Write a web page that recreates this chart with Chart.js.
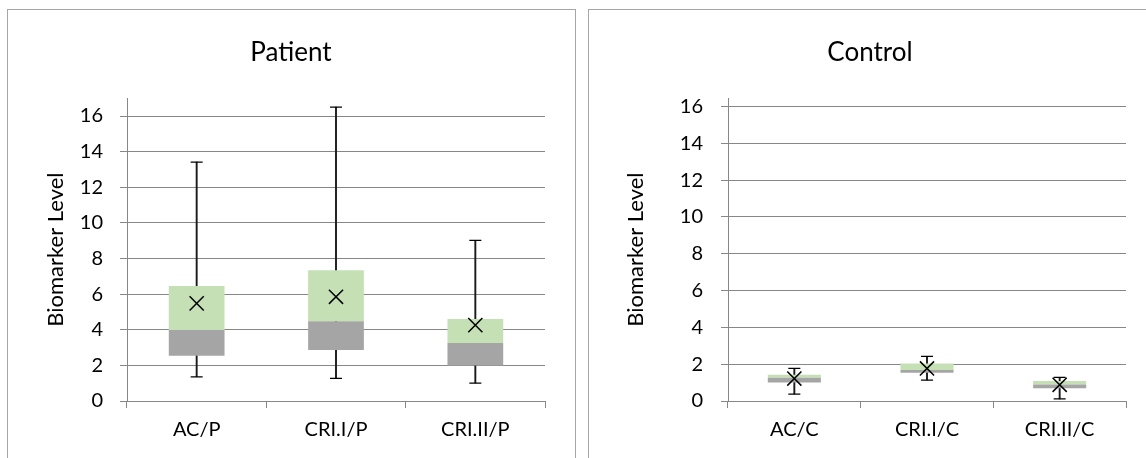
<!DOCTYPE html>
<html>
<head>
<meta charset="utf-8">
<script src="https://cdn.jsdelivr.net/npm/chart.js@4.4.1/dist/chart.umd.min.js"></script>
<style>
  html, body { margin: 0; padding: 0; background: #fff; overflow: hidden; }
  body { width: 1146px; height: 458px; position: relative; }
  .frame { position: absolute; top: 9px; height: 470px; border: 1px solid #a6a6a6; box-sizing: border-box; }
  canvas { position: absolute; top: 10px; }
</style>
</head>
<body>
<div class="frame" style="left:7px; width:569px;"></div>
<div class="frame" style="left:588px; width:600px;"></div>
<canvas id="patient" width="537" height="448" style="left:37px"></canvas>
<canvas id="control" width="532" height="448" style="left:614px"></canvas>
<script>
// values
const yTicks = [0, 2, 4, 6, 8, 10, 12, 14, 16];

const patientLabels = ['AC/P', 'CRI.I/P', 'CRI.II/P'];
const patientMin    = [1.36, 1.27, 1.01];
const patientQ1     = [2.54, 2.86, 2.0];
const patientMedian = [3.98, 4.48, 3.25];
const patientQ3     = [6.46, 7.34, 4.61];
const patientMax    = [13.41, 16.5, 9.02];
const patientMean   = [5.48, 5.85, 4.26];

const controlLabels = ['AC/C', 'CRI.I/C', 'CRI.II/C'];
const controlMin    = [0.38, 1.14, 0.11];
const controlQ1     = [1.01, 1.54, 0.69];
const controlMedian = [1.26, 1.68, 0.9];
const controlQ3     = [1.42, 2.04, 1.08];
const controlMax    = [1.77, 2.42, 1.28];
const controlMean   = [1.22, 1.77, 0.88];

const FONT = 'Lato, "Open Sans", sans-serif';
const INK = '#000000';
const WHISKER = '#1a1a1a';
const AXIS = '#878787';
const GRAY = '#a5a5a5';
const GREEN = '#c5e0b4';

function pointSet(data, style, radius, order, width) {
  return {
    type: 'line', data, showLine: false, order,
    pointStyle: style, pointRadius: radius, pointBorderWidth: width,
    pointBorderColor: INK, pointBackgroundColor: INK
  };
}

function boxChart(canvas, title, labels, s, cfg) {
  const box = { grouped: false, barPercentage: 0.4, categoryPercentage: 1, borderWidth: 0, order: 2 };
  return new Chart(canvas, {
    type: 'bar',
    data: {
      labels,
      datasets: [
        pointSet(s.mean, 'crossRot', 10, 0, 1.5),
        pointSet(s.max, 'line', 6, 1, 1.25),
        pointSet(s.min, 'line', 6, 1, 1.25),
        { ...box, data: s.q1.map((v, i) => [v, s.median[i]]), backgroundColor: GRAY },
        { ...box, data: s.median.map((v, i) => [v, s.q3[i]]), backgroundColor: GREEN },
        { data: s.min.map((v, i) => [v, s.max[i]]), grouped: false, barThickness: 1.25,
          backgroundColor: WHISKER, borderWidth: 0, order: 3 }
      ]
    },
    options: {
      responsive: false,
      animation: false,
      events: [],
      devicePixelRatio: 1,
      layout: { padding: { left: 0, right: cfg.padRight, top: 0, bottom: 0 } },
      plugins: {
        legend: { display: false },
        tooltip: { enabled: false },
        title: {
          display: true, text: title, color: INK,
          font: { family: FONT, size: 26, weight: 'normal' },
          padding: { top: 27, bottom: 30 }
        }
      },
      scales: {
        x: {
          grid: { drawOnChartArea: false, tickLength: 7, color: AXIS, offset: true },
          border: { color: AXIS },
          ticks: { font: { family: FONT, size: 20 }, color: INK, padding: 10 },
          afterFit: sc => { sc.height = 57; }
        },
        y: {
          min: 0, max: cfg.yMax,
          afterBuildTicks: sc => { sc.ticks = yTicks.map(v => ({ value: v })); },
          grid: { color: AXIS, tickLength: 7 },
          border: { color: AXIS },
          ticks: { font: { family: FONT, size: 20 }, color: INK, padding: cfg.tickPad },
          title: {
            display: true, text: 'Biomarker Level', color: INK,
            font: { family: FONT, size: 22 },
            padding: { top: cfg.titlePad, bottom: 0 }
          },
          afterFit: sc => { sc.width = cfg.yWidth; }
        }
      }
    }
  });
}

boxChart(document.getElementById('patient'), 'Patient', patientLabels, {
  min: patientMin, q1: patientQ1, median: patientMedian, q3: patientQ3, max: patientMax, mean: patientMean
}, { yMax: 17, yWidth: 90, padRight: 29, titlePad: 6, tickPad: 17 });

boxChart(document.getElementById('control'), 'Control', controlLabels, {
  min: controlMin, q1: controlQ1, median: controlMedian, q3: controlQ3, max: controlMax, mean: controlMean
}, { yMax: 16.45, yWidth: 114, padRight: 20, titlePad: 9, tickPad: 18 });
</script>
</body>
</html>
